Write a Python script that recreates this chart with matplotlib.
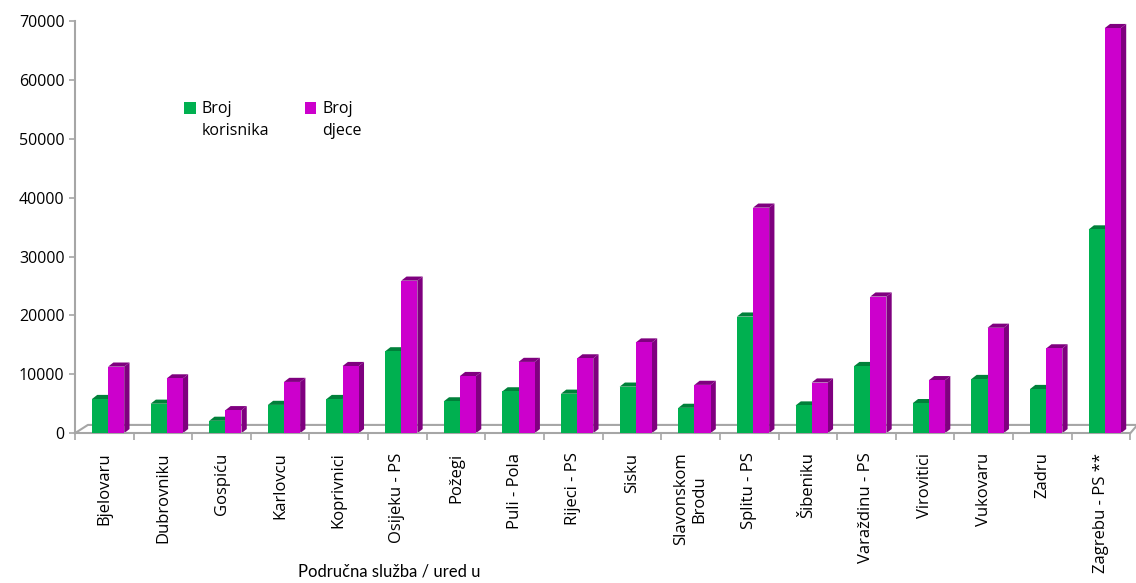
import numpy as np
import matplotlib.pyplot as plt
from matplotlib.patches import Polygon, Rectangle
from matplotlib.container import BarContainer
from matplotlib.legend_handler import HandlerPatch, update_from_first_child

plt.rcParams['font.family'] = ['Open Sans', 'DejaVu Sans']

categories = ['Bjelovaru', 'Dubrovniku', 'Gospiću', 'Karlovcu', 'Koprivnici',
              'Osijeku - PS', 'Požegi', 'Puli - Pola', 'Rijeci - PS', 'Sisku',
              'Slavonskom\nBrodu', 'Splitu - PS', 'Šibeniku', 'Varaždinu - PS',
              'Virovitici', 'Vukovaru', 'Zadru', 'Zagrebu - PS **']
korisnici = [5800, 5000, 2100, 4800, 5800, 13900, 5400, 7100, 6700, 7900,
             4300, 19800, 4700, 11400, 5100, 9200, 7500, 34600]
djeca = [11300, 9300, 3900, 8700, 11400, 25900, 9700, 12100, 12700, 15400,
         8200, 38300, 8600, 23200, 9000, 17900, 14400, 68800]

green, green_dark = '#00B050', '#00803A'
pink, pink_dark = '#CC00CC', '#7F007F'

fig = plt.figure(figsize=(11.36, 5.83), dpi=100)
ax = fig.add_axes([0.066, 0.257, 0.929, 0.707])

x = np.arange(len(categories))
w = 0.275
dx, dy = 0.09, 700  # depth of the fake 3D side


def bars3d(xs, vals, color, dark, label):
    ax.bar(xs, vals, width=w, align='edge', color=color, label=label, zorder=3)
    for xi, v in zip(xs, vals):
        side = Polygon([(xi + w, 0), (xi + w + dx, dy), (xi + w + dx, v + dy), (xi + w, v)],
                       closed=True, facecolor=dark, edgecolor='none', zorder=2)
        top = Polygon([(xi, v), (xi + dx, v + dy), (xi + w + dx, v + dy), (xi + w, v)],
                      closed=True, facecolor=dark, edgecolor='none', zorder=2)
        ax.add_patch(side)
        ax.add_patch(top)


bars3d(x - 0.21, korisnici, green, green_dark, 'Broj\nkorisnika')
bars3d(x + 0.065, djeca, pink, pink_dark, 'Broj\ndjece')

# floor of the 3D box
ax.plot([-0.5, -0.28, 17.62, 17.5], [0, 1400, 1400, 0], color='#a6a6a6', lw=1.5,
        zorder=1, clip_on=False)

ax.set_xlim(-0.5, 17.5)
ax.set_ylim(0, 70000)
ax.set_yticks(range(0, 70001, 10000))
ax.tick_params(axis='y', labelsize=11.5, length=4, color='#a6a6a6', width=1.2)
ax.set_xticks(x)
ax.set_xticklabels(categories, rotation=90, fontsize=12)
ax.tick_params(axis='x', length=0, pad=14)
ax.set_xticks(np.arange(-0.5, 18, 1), minor=True)
ax.tick_params(axis='x', which='minor', length=5, color='#a6a6a6', width=1.2)

for s in ['top', 'right']:
    ax.spines[s].set_visible(False)
for s in ['left', 'bottom']:
    ax.spines[s].set_color('#a6a6a6')
    ax.spines[s].set_linewidth(1.5)


# legend square sits beside the first line of the label
def top_square(legend, orig_handle, xdescent, ydescent, width, height, fontsize):
    return Rectangle((-xdescent, -ydescent + 0.8 * fontsize), width, height)


leg = ax.legend(loc='upper left', bbox_to_anchor=(0.09, 0.84), ncol=2, frameon=False,
                fontsize=11.5, handlelength=0.7, handleheight=0.7, handletextpad=0.4,
                columnspacing=2.2,
                handler_map={BarContainer: HandlerPatch(patch_func=top_square,
                                                        update_func=update_from_first_child)})
for t in leg.get_texts():
    t.set_linespacing(1.5)

fig.text(0.343, 0.012, 'Područna služba / ured u', fontsize=12,
         family=['Lato', 'DejaVu Sans'], ha='center')

fig.savefig('out.png', dpi=100)
